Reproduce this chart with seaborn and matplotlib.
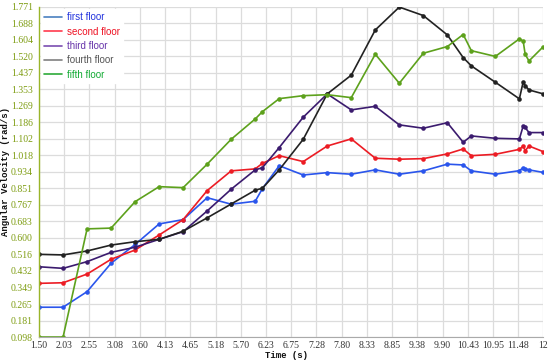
import matplotlib.pyplot as plt
from matplotlib.lines import Line2D
import pandas as pd
import seaborn as sns

time_s = [1.5, 2.0, 2.5, 3.0, 3.5, 4.0, 4.5, 5.0, 5.5, 6.0, 6.15, 6.5, 7.0, 7.5,
          8.0, 8.5, 9.0, 9.5, 10.0, 10.33, 10.5, 11.0, 11.5, 11.58, 11.62, 11.7, 12.0]

first_floor = [0.249, 0.249, 0.328, 0.472, 0.567, 0.671, 0.693, 0.804, 0.771, 0.786,
               0.850, 0.966, 0.919, 0.931, 0.923, 0.945, 0.923, 0.940, 0.974, 0.970,
               0.940, 0.923, 0.941, 0.956, 0.950, 0.945, 0.932]
second_floor = [0.370, 0.373, 0.417, 0.492, 0.539, 0.615, 0.693, 0.840, 0.940, 0.950,
                0.978, 1.017, 0.987, 1.066, 1.102, 1.004, 0.999, 1.002, 1.026, 1.051,
                1.017, 1.024, 1.049, 1.066, 1.042, 1.066, 1.037]
third_floor = [0.454, 0.446, 0.480, 0.527, 0.553, 0.593, 0.632, 0.737, 0.847, 0.945,
               0.956, 1.058, 1.212, 1.330, 1.249, 1.267, 1.173, 1.156, 1.184, 1.085,
               1.117, 1.105, 1.102, 1.168, 1.160, 1.134, 1.134]
fourth_floor = [0.517, 0.514, 0.534, 0.564, 0.581, 0.593, 0.634, 0.702, 0.772, 0.842,
                0.852, 0.945, 1.100, 1.330, 1.425, 1.654, 1.770, 1.727, 1.629, 1.514,
                1.472, 1.389, 1.305, 1.392, 1.372, 1.350, 1.330]
fifth_floor = [0.098, 0.098, 0.646, 0.650, 0.784, 0.860, 0.855, 0.974, 1.100, 1.203,
               1.240, 1.306, 1.321, 1.326, 1.311, 1.531, 1.384, 1.536, 1.570, 1.631,
               1.549, 1.520, 1.609, 1.597, 1.531, 1.497, 1.570]

floor_names = ['first floor', 'second floor', 'third floor', 'fourth floor', 'fifth floor']
line_colors = ['#2a55ec', '#ec1c24', '#3b1b6e', '#222222', '#5da11c']
legend_line_colors = ['#4a80c0', '#ff3b4e', '#7a4eb0', '#808080', '#2eaa3a']
legend_text_colors = ['#2233dd', '#ee1122', '#6633aa', '#555555', '#11aa33']

x_tick_labels = ['1.50', '2.03', '2.55', '3.08', '3.60', '4.13', '4.65', '5.18', '5.70',
                 '6.23', '6.75', '7.28', '7.80', '8.33', '8.85', '9.38', '9.90', '10.43',
                 '10.95', '11.48', '12']
y_tick_labels = ['0.098', '0.181', '0.265', '0.349', '0.432', '0.516', '0.600', '0.683',
                 '0.767', '0.851', '0.934', '1.018', '1.102', '1.186', '1.269', '1.353',
                 '1.437', '1.520', '1.604', '1.688', '1.771']

series = [first_floor, second_floor, third_floor, fourth_floor, fifth_floor]
df = pd.concat([pd.DataFrame({'time': time_s, 'velocity': vals, 'floor': name})
                for name, vals in zip(floor_names, series)])

sns.set_style('whitegrid', {'grid.color': '#dcdcdc'})
fig, ax = plt.subplots(figsize=(5.5, 3.62), dpi=100)
fig.subplots_adjust(left=0.071, right=0.988, bottom=0.069, top=0.981)

for name, color in zip(floor_names, line_colors):
    sns.lineplot(data=df[df['floor'] == name], x='time', y='velocity', color=color,
                 marker='o', markersize=3.3, markeredgewidth=0, linewidth=1.2,
                 estimator=None, ax=ax, legend=False)

x0, x1 = 1.5, 12.0
y0, y1 = 0.098, 1.771
ax.set_xlim(x0, x1)
ax.set_ylim(y0, y1)
ax.set_xticks([x0 + i * (x1 - x0) / 20 for i in range(21)])
ax.set_xticklabels(x_tick_labels)
ax.set_yticks([y0 + i * (y1 - y0) / 20 for i in range(21)])
ax.set_yticklabels(y_tick_labels)
ax.grid(True, color='#dcdcdc', linewidth=0.9)

for lab in ax.get_xticklabels() + ax.get_yticklabels():
    lab.set_family('Liberation Serif')
ax.tick_params(axis='y', colors='#7d9c10', labelsize=7, length=3, width=0.8, pad=1.5)
ax.tick_params(axis='x', colors='#333333', labelsize=7, length=0, pad=3)

for side in ['top', 'right']:
    ax.spines[side].set_visible(False)
ax.spines['left'].set_color('#9ab52a')
ax.spines['left'].set_linewidth(1.0)
ax.spines['bottom'].set_color('#aaaaaa')
ax.spines['bottom'].set_linewidth(0.8)

ax.set_ylabel('Angular Velocity (rad/s)', fontsize=6.5, fontweight='bold',
              family='Liberation Mono', color='#111111')
ax.yaxis.set_label_coords(-0.058, 0.5)
ax.set_xlabel('Time (s)', fontsize=6.5, fontweight='bold', family='Liberation Mono',
              color='#111111')
ax.xaxis.set_label_coords(0.49, -0.042)

handles = [Line2D([0], [0], color=c, linewidth=1.2) for c in legend_line_colors]
leg = ax.legend(handles, floor_names, loc='upper left', bbox_to_anchor=(0.0, 1.0),
                frameon=True, facecolor='white', edgecolor='white', framealpha=1,
                fancybox=False, handlelength=1.85, handletextpad=0.45,
                labelspacing=0.45, borderpad=0.35, borderaxespad=0.2,
                prop={'family': 'Liberation Sans', 'size': 7})
for txt, c in zip(leg.get_texts(), legend_text_colors):
    txt.set_color(c)

fig.savefig('out.png', dpi=100)
